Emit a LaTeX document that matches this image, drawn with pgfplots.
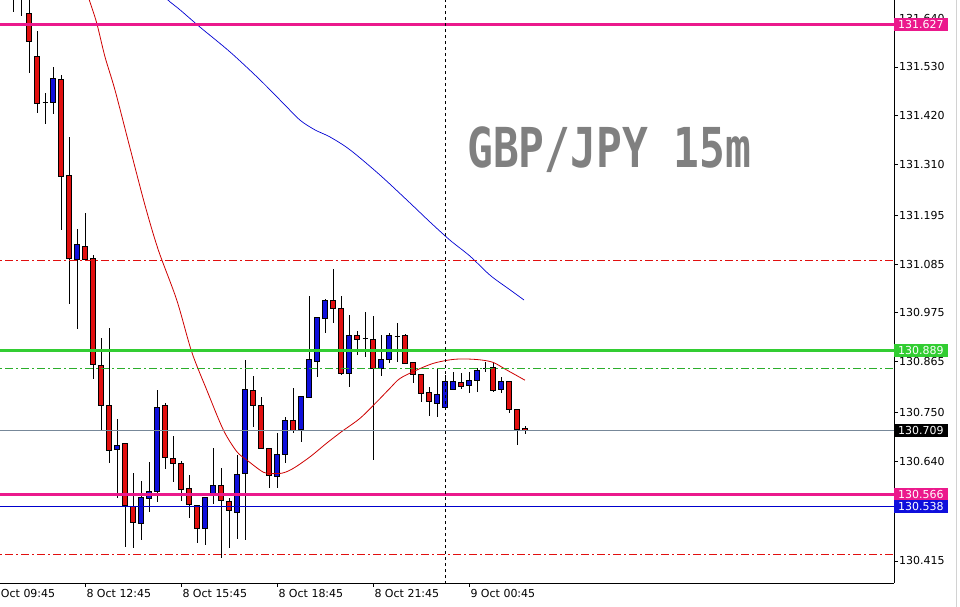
\documentclass[border=0pt]{standalone}
\usepackage{fontspec}
\setmainfont{DejaVu Sans}
\newfontfamily\monofont{DejaVu Sans Mono}
\usepackage{pgfplots}
\usepackage{pgfplotstable}
\usetikzlibrary{calc}
\pgfplotsset{compat=1.18}

\definecolor{cred}{RGB}{225,15,15}
\definecolor{cblue}{RGB}{15,15,220}
\definecolor{cpink}{RGB}{235,25,140}
\definecolor{cgreen}{RGB}{50,205,50}
\definecolor{cslate}{RGB}{119,136,153}
\definecolor{cmablue}{RGB}{0,0,210}
\definecolor{cmared}{RGB}{205,0,0}
\definecolor{clineblue}{RGB}{0,0,205}
\definecolor{ctext}{RGB}{128,128,128}

\pgfdeclareplotmark{empty}{}

\pgfplotstableread{
n o h l c
-9 131.720 131.760 131.655 131.700
-8 131.700 131.750 131.646 131.656
-7 131.651 131.700 131.516 131.587
-6 131.555 131.611 131.427 131.448
-5 131.450 131.471 131.401 131.450
-4 131.450 131.529 131.425 131.504
-3 131.502 131.512 131.162 131.284
-2 131.286 131.371 130.994 131.099
-1 131.095 131.164 130.939 131.130
0 131.125 131.200 131.092 131.095
1 131.099 131.106 130.825 130.859
2 130.856 130.918 130.711 130.766
3 130.766 130.940 130.635 130.665
4 130.667 130.735 130.556 130.676
5 130.681 130.682 130.446 130.540
6 130.537 130.613 130.444 130.502
7 130.500 130.595 130.462 130.559
8 130.556 130.638 130.525 130.572
9 130.572 130.801 130.549 130.762
10 130.766 130.771 130.622 130.649
11 130.647 130.697 130.594 130.635
12 130.635 130.641 130.551 130.577
13 130.579 130.608 130.513 130.543
14 130.540 130.540 130.455 130.489
15 130.489 130.560 130.450 130.559
16 130.562 130.669 130.543 130.585
17 130.586 130.624 130.421 130.551
18 130.549 130.556 130.444 130.528
19 130.525 130.654 130.464 130.611
20 130.613 130.869 130.462 130.802
21 130.799 130.832 130.717 130.765
22 130.766 130.786 130.668 130.669
23 130.669 130.669 130.579 130.609
24 130.605 130.704 130.580 130.656
25 130.656 130.739 130.635 130.732
26 130.732 130.806 130.704 130.710
27 130.712 130.787 130.684 130.786
28 130.784 131.013 130.784 130.869
29 130.865 130.966 130.831 130.965
30 130.963 131.006 130.930 131.004
31 131.004 131.074 130.951 130.985
32 130.985 131.013 130.835 130.839
33 130.839 130.970 130.807 130.923
34 130.923 130.935 130.880 130.915
35 130.917 130.978 130.876 130.917
36 130.915 130.968 130.643 130.850
37 130.850 130.925 130.833 130.869
38 130.870 130.930 130.861 130.923
39 130.922 130.953 130.865 130.921
40 130.925 130.927 130.860 130.861
41 130.864 130.865 130.816 130.835
42 130.837 130.837 130.774 130.793
43 130.796 130.807 130.742 130.776
44 130.771 130.850 130.741 130.790
45 130.761 130.835 130.761 130.821
46 130.803 130.842 130.801 130.820
47 130.817 130.840 130.802 130.808
48 130.812 130.842 130.793 130.822
49 130.822 130.850 130.797 130.846
50 130.850 130.865 130.842 130.850
51 130.852 130.865 130.797 130.801
52 130.802 130.831 130.793 130.820
53 130.820 130.822 130.748 130.757
54 130.757 130.757 130.677 130.712
55 130.715 130.720 130.702 130.709
}\data

\begin{document}
\begin{tikzpicture}[x=1pt,y=1pt]
\begin{axis}[
  scale only axis, width=894pt, height=583pt,
  xmin=-10.6625, xmax=101.0875,
  ymin=130.365214, ymax=131.681242,
  axis x line=bottom, axis y line=right,
  axis line style={-, black, line width=0.8pt},
  tick align=outside, major tick length=4pt,
  tick style={black, line width=0.8pt},
  xtick={0,12,24,36,48},
  xticklabels={8 Oct 12:45,8 Oct 15:45,8 Oct 18:45,8 Oct 21:45,9 Oct 00:45},
  xticklabel style={anchor=north west, inner sep=1pt, xshift=0pt, yshift=-1pt},
  ytick={131.640,131.530,131.420,131.310,131.195,131.085,130.975,130.865,130.750,130.640,130.415},
  yticklabels={131.640,131.530,131.420,131.310,131.195,131.085,130.975,130.865,130.750,130.640,130.415},
  yticklabel style={anchor=west, inner sep=1pt},
  tick label style={font=\fontsize{11}{13}\selectfont},
  clip mode=individual,
]
\coordinate (BL) at (rel axis cs:0,0);
% wicks
\addplot[only marks, mark=empty, forget plot,
  error bars/.cd, y dir=both, y explicit, error mark=none,
  error bar style={black, line width=1pt}]
  table[x=n, y=o, y error plus expr=\thisrow{h}-\thisrow{o}, y error minus expr=\thisrow{o}-\thisrow{l}] {\data};
% bodies
\addplot[only marks, mark=empty, scatter, forget plot,
  visualization depends on={(\thisrow{c}-\thisrow{o})*443 \as \hh},
  scatter/@pre marker code/.code={%
    \pgfmathsetmacro\ahh{abs(\hh)}%
    \ifdim\ahh pt<1pt
      \draw[black, line width=1pt] (-2.6pt,0pt) -- (2.6pt,0pt);
    \else
      \ifdim\hh pt>0pt \def\bc{cblue}\else\def\bc{cred}\fi
      \draw[black, line width=0.8pt, fill=\bc] (-2.5pt,0pt) rectangle (2.5pt,\hh pt);
    \fi
  },
  scatter/@post marker code/.code={},
] table[x=n, y=o] {\data};

% moving averages
\addplot[cmared, line width=0.8pt, smooth, mark=none] coordinates {
(0.1,131.700) (0.5,131.681) (1.43,131.629) (2.46,131.553) (3.71,131.478) (5.59,131.347)
(7.46,131.218) (9.125,131.117) (11.43,131.004) (13.3,130.887) (15.18,130.801)
(17.25,130.711) (18.93,130.662) (20.18,130.643) (21.84,130.620) (22.68,130.613)
(24.55,130.613) (26.0,130.624) (28.09,130.650) (30.18,130.681) (32.05,130.707)
(34.34,130.737) (36.43,130.774) (38.09,130.805) (39.34,130.827) (41.43,130.846)
(43.5,130.861) (45.59,130.869) (47.25,130.871) (49.34,130.869) (51.0,130.863)
(52.68,130.846) (54.96,130.823)};
\addplot[cmablue, line width=0.7pt, smooth, mark=none] coordinates {
(9.5,131.700) (10.34,131.681) (11.84,131.659) (14.34,131.620) (18.09,131.564)
(21.84,131.501) (24.96,131.444) (26.84,131.410) (28.71,131.388) (30.59,131.372)
(33.09,131.343) (36.84,131.286) (40.59,131.223) (43.09,131.180) (45.59,131.139)
(48.09,131.103) (50.59,131.060) (53.09,131.027) (54.84,131.004)};

% horizontal levels
\addplot[cpink, line width=3pt, mark=none] coordinates {(-12,131.627) (102,131.627)};
\addplot[cpink, line width=3pt, mark=none] coordinates {(-12,130.566) (102,130.566)};
\addplot[cgreen, line width=3pt, mark=none] coordinates {(-12,130.889) (102,130.889)};
\addplot[cgreen!85!black, line width=0.8pt, mark=none, dash pattern=on 8pt off 3pt on 2pt off 3pt] coordinates {(-12,130.850) (102,130.850)};
\addplot[cred, line width=0.8pt, mark=none, dash pattern=on 8pt off 3pt on 2pt off 3pt] coordinates {(-12,131.094) (102,131.094)};
\addplot[cred, line width=0.8pt, mark=none, dash pattern=on 8pt off 3pt on 2pt off 3pt] coordinates {(-12,130.430) (102,130.430)};
\addplot[cslate, line width=0.8pt, mark=none] coordinates {(-12,130.709) (102,130.709)};
\addplot[clineblue, line width=0.8pt, mark=none] coordinates {(-12,130.538) (102,130.538)};
% day separator
\addplot[black, line width=0.8pt, mark=none, dash pattern=on 3pt off 3pt] coordinates {(45,130.2) (45,131.8)};

% first (cut) time label
\node[anchor=north west, inner sep=1pt, yshift=-5pt, font=\fontsize{11}{13}\selectfont] at (axis cs:-12,130.365214) {8 Oct 09:45};

% price labels
\tikzset{plab/.style={anchor=west, inner xsep=4pt, inner ysep=0pt, minimum height=13pt, text=white, font=\fontsize{11}{13}\selectfont}}
\node[plab, fill=cpink] at (axis cs:101.0875,131.627) {131.627};
\node[plab, fill=cgreen] at (axis cs:101.0875,130.889) {130.889};
\node[plab, fill=black] at (axis cs:101.0875,130.709) {130.709};
\node[plab, fill=cpink] at (axis cs:101.0875,130.566) {130.566};
\node[plab, fill=cblue] at (axis cs:101.0875,130.538) {130.538};

\end{axis}
\draw[gray!35, line width=1.5pt] ($(BL)+(956.5,-24)$) -- ($(BL)+(956.5,583)$);
\node[anchor=base west, text=ctext, inner sep=0pt] at ($(BL)+(467,415)$) {\scalebox{0.78}[1]{\fontsize{55}{60}\monofont\bfseries GBP/JPY 15m}};
\pgfresetboundingbox
\path[use as bounding box] ($(BL)+(0,-24)$) rectangle ($(BL)+(960,583)$);
\end{tikzpicture}
\end{document}
